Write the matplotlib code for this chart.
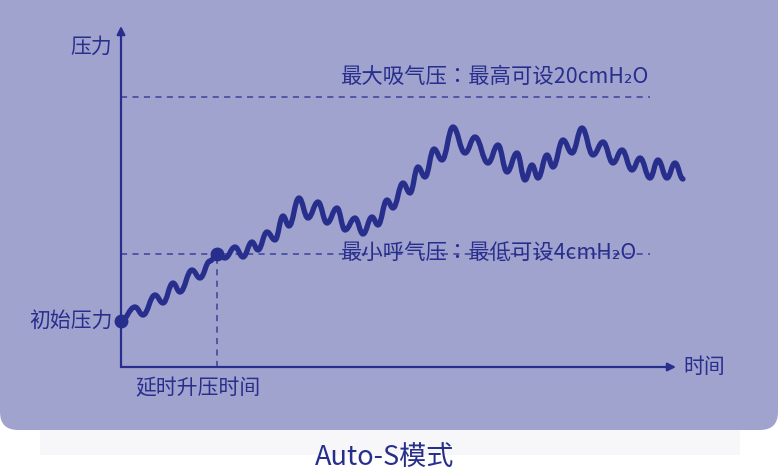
import matplotlib.pyplot as plt
from matplotlib.path import Path
from matplotlib.patches import PathPatch, FancyBboxPatch, Rectangle

plt.rcParams['font.family'] = ['Noto Sans CJK SC', 'DejaVu Sans']

# pressure curve (arbitrary units: time / pressure)
# peaks and troughs of the wave in order
curve_t = [0.0, 1.4, 2.2, 3.4, 4.2, 5.2, 5.9, 7.1, 7.9, 8.9, 9.6, 10.4, 11.4,
           12.2, 13.1, 13.7, 14.6, 15.4, 16.2, 16.8, 17.8, 18.7, 19.7, 20.6,
           21.6, 22.4, 23.4, 24.2, 25.1, 25.7, 26.6, 27.2, 28.2, 28.9, 29.7,
           30.4, 31.3, 32.1, 33.2, 34.4, 35.4, 36.7, 37.7, 38.6, 39.6, 40.4,
           41.1, 41.7, 42.6, 43.2, 44.2, 45.1, 46.1, 47.2, 48.2, 49.2, 50.1,
           51.1, 51.9, 52.9, 53.7, 54.6, 55.4, 56.2]
curve_p = [4.6, 6.0, 5.2, 7.2, 6.4, 8.4, 7.5, 9.7, 8.9, 10.6, 11.3, 10.9, 12.0,
           11.0, 12.5, 11.7, 13.5, 12.7, 15.1, 14.1, 16.9, 14.9, 16.5, 14.4,
           15.9, 13.7, 14.9, 13.3, 15.0, 14.2, 16.7, 15.9, 18.4, 17.4, 20.0,
           19.0, 21.8, 20.7, 24.0, 21.4, 23.0, 20.4, 22.2, 19.5, 21.4, 18.7,
           20.2, 18.9, 21.2, 20.0, 22.7, 21.4, 23.9, 21.2, 22.5, 20.4, 21.7,
           19.7, 20.9, 18.9, 20.7, 18.9, 20.4, 18.8]

start_p = 4.6          # 初始压力
delay_t = 9.6          # 延时升压时间
min_p = 11.3           # 最小呼气压 line
max_p = 27.0           # 最大吸气压 line
axis_top = 34.1
axis_right = 55.5
line_end = 52.9

labels = {
    "y": "压力",
    "x": "时间",
    "start": "初始压力",
    "delay": "延时升压时间",
    "max": "最大吸气压：最高可设20cmH₂O",
    "min": "最小呼气压：最低可设4cmH₂O",
    "title": "Auto-S模式",
}

navy = '#272E8C'
panel = '#A1A3CF'

fig = plt.figure(figsize=(7.78, 4.73), dpi=100)
fig.patch.set_facecolor('white')
ax = fig.add_axes([0, 0, 1, 1])
ax.set_xlim(-12.1, 65.7)
ax.set_ylim(-10.6, 36.7)
ax.axis('off')

# background panel and faint shadow
ax.add_patch(Rectangle((-8.1, -8.8), 70, 2.6, facecolor='#F7F7F9', edgecolor='none', zorder=0))
ax.add_patch(FancyBboxPatch((-12.1, -6.3), 77.8, 45, boxstyle='round,pad=0,rounding_size=1.8',
                            facecolor=panel, edgecolor='none', zorder=1))

# axes with arrows
ax.annotate('', xy=(0, axis_top), xytext=(0, 0),
            arrowprops=dict(arrowstyle='-|>', color=navy, lw=1.6, mutation_scale=12,
                            shrinkA=0, shrinkB=0), zorder=3)
ax.annotate('', xy=(axis_right, 0), xytext=(0, 0),
            arrowprops=dict(arrowstyle='-|>', color=navy, lw=1.6, mutation_scale=12,
                            shrinkA=0, shrinkB=0), zorder=3)

# reference dashed lines
dash = dict(color='#3A409A', lw=1.1, ls=(0, (4, 3.5)), zorder=2)
ax.plot([0, line_end], [max_p, max_p], **dash)
ax.plot([0, line_end], [min_p, min_p], **dash)
ax.plot([delay_t, delay_t], [0, min_p], **dash)

# smooth wave through the read extremes
verts = [(curve_t[0], curve_p[0])]
codes = [Path.MOVETO]
for i in range(1, len(curve_t)):
    dx = curve_t[i] - curve_t[i - 1]
    verts += [(curve_t[i - 1] + 0.42 * dx, curve_p[i - 1]),
              (curve_t[i] - 0.42 * dx, curve_p[i]),
              (curve_t[i], curve_p[i])]
    codes += [Path.CURVE4] * 3
ax.add_patch(PathPatch(Path(verts, codes), facecolor='none', edgecolor=navy,
                       lw=3.8, capstyle='round', joinstyle='round', zorder=4))

ax.plot([0, delay_t], [start_p, min_p], 'o', color=navy, ms=9, zorder=5)

# texts
fs = 15
tc = ['Noto Sans CJK TC', 'DejaVu Sans']
ax.text(-0.9, 32.0, labels["y"], ha='right', va='center', fontsize=fs, color=navy, zorder=6)
ax.text(56.2, 0.0, labels["x"], ha='left', va='center', fontsize=fs, color=navy, zorder=6)
ax.text(-0.8, start_p, labels["start"], ha='right', va='center', fontsize=fs, color=navy, zorder=6)
ax.text(1.4, -2.1, labels["delay"], ha='left', va='center', fontsize=fs, color=navy, zorder=6)
ax.text(21.9, max_p + 2.0, labels["max"], ha='left', va='center', fontsize=15.4, color=navy,
        family=tc, zorder=6)
ax.text(21.9, min_p + 0.1, labels["min"], ha='left', va='center', fontsize=15.4, color=navy,
        family=tc, zorder=6)
ax.text(26.4, -9.0, labels["title"], ha='center', va='center', fontsize=19.5, color=navy, zorder=6)

fig.savefig('out.png', dpi=100, facecolor='white')
